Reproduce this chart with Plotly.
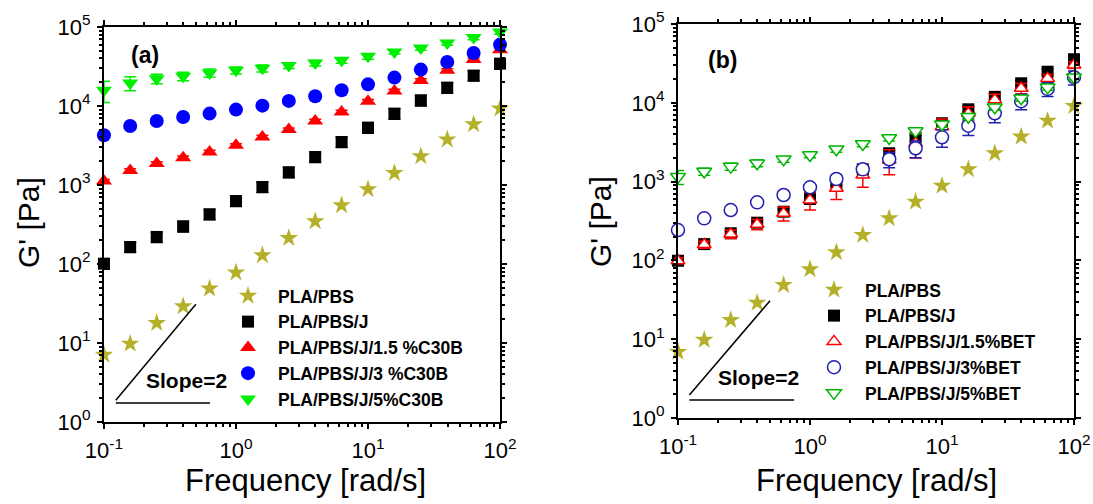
import plotly.graph_objects as go

# ---------------- data ----------------
freq = [0.1, 0.158, 0.251, 0.398, 0.631, 1.0, 1.585, 2.512, 3.981, 6.31,
        10.0, 15.85, 25.12, 39.81, 63.1, 100.0]

# panel (a)
a_pla_pbs = [7.1, 9.8, 17.9, 29.2, 48.9, 77.8, 129, 213, 348, 553, 883, 1420, 2310, 3760, 5860, 9270]
a_pla_pbs_j = [101, 164, 220, 300, 426, 627, 944, 1450, 2260, 3500, 5330, 8020, 11800, 17100, 24300, 34400]
a_c30b_15 = [1120, 1530, 1870, 2220, 2620, 3180, 4050, 5030, 6460, 8390, 11500, 15500, 21100, 28300, 38700, 51700]
a_c30b_3 = [4260, 5580, 6460, 7260, 8020, 9000, 10100, 11600, 13300, 15800, 18800, 22900, 28900, 36100, 46900, 59900]
a_c30b_5 = [15800, 19500, 22200, 23800, 26200, 28300, 30000, 32500, 35000, 37900, 42600, 48300, 54200, 62700, 73400, 86400]

# error bars (percent of value)
a_err_j = [15, 15, 15, 15, 15, 15, 15, 15, 15, 15, 15, 15, 15, 15, 15, 15]
a_err_15 = [5, 5, 5, 5, 5, 5, 5, 5, 5, 5, 5, 5, 5, 5, 5, 5]
a_err_3 = [5, 5, 5, 5, 5, 5, 5, 5, 5, 5, 5, 5, 5, 5, 5, 5]
a_err_5 = [30, 20, 14, 12, 12, 10, 10, 8, 8, 8, 8, 6, 6, 6, 6, 6]

# panel (b)
b_pla_pbs = [6.9, 9.8, 17.5, 29, 48.8, 77, 127, 210, 342, 556, 887, 1430, 2290, 3720, 5930, 9100]
b_pla_pbs_j = [99, 161, 221, 301, 415, 601, 968, 1430, 2290, 3550, 5500, 8270, 11900, 17700, 24800, 35700]
b_bet_15 = [99, 159, 216, 288, 396, 583, 822, 1210, 1880, 3060, 4970, 7360, 10900, 15300, 20400, 30200]
b_bet_3 = [243, 342, 436, 546, 676, 847, 1080, 1430, 1920, 2650, 3650, 5120, 7360, 10500, 15000, 21100]
b_bet_5 = [1150, 1340, 1550, 1710, 1920, 2180, 2570, 3000, 3570, 4390, 5340, 6660, 8770, 11400, 15700, 21100]

b_err_j = [8, 8, 8, 8, 8, 8, 8, 8, 8, 8, 8, 8, 8, 8, 8, 8]
b_err_15 = [8, 10, 12, 15, 20, 25, 28, 30, 35, 35, 25, 20, 18, 15, 12, 10]
b_err_3 = [0, 0, 0, 0, 0, 0, 0, 0, 22, 24, 25, 25, 24, 22, 20, 20]
b_err_5 = [20, 10, 10, 10, 8, 8, 8, 8, 8, 8, 8, 8, 8, 8, 8, 8]

# slope=2 guide triangles
slope_a_x = [0.497, 0.123, None, 0.123, 0.635]
slope_a_y = [30.9, 1.88, None, 1.74, 1.74]
slope_b_x = [0.498, 0.122, None, 0.122, 0.757]
slope_b_y = [30.8, 1.96, None, 1.69, 1.69]

# tick labels
x_tickvals = [0.1, 1, 10, 100]
x_ticktext = ["10<sup>-1</sup>", "10<sup>0</sup>", "10<sup>1</sup>", "10<sup>2</sup>"]
y_tickvals = [1, 10, 100, 1000, 10000, 100000]
y_ticktext = ["10<sup>0</sup>", "10<sup>1</sup>", "10<sup>2</sup>", "10<sup>3</sup>",
              "10<sup>4</sup>", "10<sup>5</sup>"]
mantissas = [2, 3, 4, 5, 6, 7, 8, 9]
x_minor = [m * d for d in x_tickvals[:-1] for m in mantissas]
y_minor = [m * d for d in y_tickvals[:-1] for m in mantissas]

FONT = "Arial, Liberation Sans, sans-serif"
STAR = "#b5b02a"


def abs_err(vals, pct):
    return [v * p / 100.0 for v, p in zip(vals, pct)]


fig = go.Figure()


def add(x, y, name, xa, ya, legend, symbol, color, size, line_color=None,
        err=None, err_color=None):
    marker = dict(symbol=symbol, color=color, size=size)
    if line_color is not None:
        marker["line"] = dict(color=line_color, width=1.5)
    else:
        marker["line"] = dict(width=0)
    tr = go.Scatter(x=x, y=y, name=name, mode="markers", marker=marker, cliponaxis=False,
                    xaxis=xa, yaxis=ya, legend=legend)
    if err is not None:
        tr.error_y = dict(type="data", array=abs_err(y, err), visible=True,
                          color=err_color or color, thickness=1.5, width=6)
    fig.add_trace(tr)


# ---- panel (a)
add(freq, a_pla_pbs, "PLA/PBS", "x", "y", "legend", "star", STAR, 14)
add(freq, a_pla_pbs_j, "PLA/PBS/J", "x", "y", "legend", "square", "black", 12, err=a_err_j)
add(freq, a_c30b_15, "PLA/PBS/J/1.5 %C30B", "x", "y", "legend", "triangle-up", "#ff0000", 14, err=a_err_15)
add(freq, a_c30b_3, "PLA/PBS/J/3 %C30B", "x", "y", "legend", "circle", "#0000ff", 14, err=a_err_3)
add(freq, a_c30b_5, "PLA/PBS/J/5%C30B", "x", "y", "legend", "triangle-down", "#00ee00", 14, err=a_err_5)

# ---- panel (b)
add(freq, b_pla_pbs, "PLA/PBS", "x2", "y2", "legend2", "star", STAR, 14)
add(freq, b_pla_pbs_j, "PLA/PBS/J", "x2", "y2", "legend2", "square", "black", 12, err=b_err_j)
add(freq, b_bet_15, "PLA/PBS/J/1.5%BET", "x2", "y2", "legend2", "triangle-up", "white", 12,
    line_color="#ff0000", err=b_err_15, err_color="#ff0000")
add(freq, b_bet_3, "PLA/PBS/J/3%BET", "x2", "y2", "legend2", "circle", "white", 13,
    line_color="#2020b0", err=b_err_3, err_color="#2020b0")
add(freq, b_bet_5, "PLA/PBS/J/5%BET", "x2", "y2", "legend2", "triangle-down", "white", 13,
    line_color="#00b400", err=b_err_5, err_color="#00b400")

# slope guides
fig.add_trace(go.Scatter(x=slope_a_x, y=slope_a_y, mode="lines", line=dict(color="black", width=1.5),
                         xaxis="x", yaxis="y", showlegend=False, hoverinfo="skip"))
fig.add_trace(go.Scatter(x=slope_b_x, y=slope_b_y, mode="lines", line=dict(color="black", width=1.5),
                         xaxis="x2", yaxis="y2", showlegend=False, hoverinfo="skip"))

base = dict(
    type="log", tickmode="array", showgrid=False, zeroline=False, automargin=False,
    showline=True, linewidth=2, linecolor="black", layer="above traces",
    ticks="outside", ticklen=5, tickwidth=2, tickcolor="#000000", mirror="allticks",
    tickfont=dict(family=FONT, size=22, color="black"),
)
x_minor_d = dict(ticks="outside", ticklen=3, tickwidth=1.5, tickcolor="#000000",
                 tickmode="array", tickvals=x_minor, showgrid=False)
y_minor_d = dict(ticks="outside", ticklen=3, tickwidth=1.5, tickcolor="#000000",
                 tickmode="array", tickvals=y_minor, showgrid=False)
xa = dict(tickvals=x_tickvals, ticktext=x_ticktext, range=[-1, 2], ticklabelstandoff=3,
          minor=x_minor_d, **base)
ya = dict(tickvals=y_tickvals, ticktext=y_ticktext, range=[0, 5], ticklabelstandoff=2,
          minor=y_minor_d, **base)

legend_font = dict(family=FONT, size=17.5, color="black", weight="bold")
fig.update_layout(
    width=1093, height=504,
    margin=dict(l=0, r=0, t=0, b=0, autoexpand=False),
    paper_bgcolor="white", plot_bgcolor="white",
    font=dict(family=FONT, color="black"),
    xaxis=dict(domain=[0.0951, 0.4575], anchor="y", **xa),
    yaxis=dict(domain=[0.1627, 0.9464], anchor="x", **ya),
    xaxis2=dict(domain=[0.6203, 0.9826], anchor="y2", **xa),
    yaxis2=dict(domain=[0.1706, 0.9524], anchor="x2", **ya),
    legend=dict(x=218 / 1093, y=1 - 278 / 504, xanchor="left", yanchor="top", itemwidth=50,
                bgcolor="rgba(0,0,0,0)", font=legend_font, tracegroupgap=0),
    legend2=dict(x=803 / 1093, y=1 - 272 / 504, xanchor="left", yanchor="top", itemwidth=52,
                 bgcolor="rgba(0,0,0,0)", font=legend_font, tracegroupgap=0),
    showlegend=True,
)

ann = [
    dict(text="<b>(a)</b>", x=145 / 1093, y=1 - 55 / 504, size=23),
    dict(text="<b>(b)</b>", x=722 / 1093, y=1 - 60 / 504, size=23),
    dict(text="<b>Slope=2</b>", x=186 / 1093, y=1 - 380 / 504, size=21),
    dict(text="<b>Slope=2</b>", x=758 / 1093, y=1 - 377 / 504, size=21),
]
for a in ann:
    fig.add_annotation(text=a["text"], x=a["x"], y=a["y"], xref="paper", yref="paper",
                       showarrow=False, xanchor="center", yanchor="middle",
                       font=dict(family=FONT, size=a["size"], color="black"))
for xx in [305, 876]:
    fig.add_annotation(text="Frequency [rad/s]", x=xx / 1093, y=1 - 461 / 504, xref="paper", yref="paper",
                       showarrow=False, xanchor="center", yanchor="top",
                       font=dict(family=FONT, size=31, color="black"))
for xx, yy in [(28, 223), (600, 222)]:
    fig.add_annotation(text="G' [Pa]", x=xx / 1093, y=1 - yy / 504, xref="paper", yref="paper",
                       showarrow=False, textangle=-90, xanchor="center", yanchor="middle",
                       font=dict(family=FONT, size=30, color="black"))

fig.write_html("out.html")
